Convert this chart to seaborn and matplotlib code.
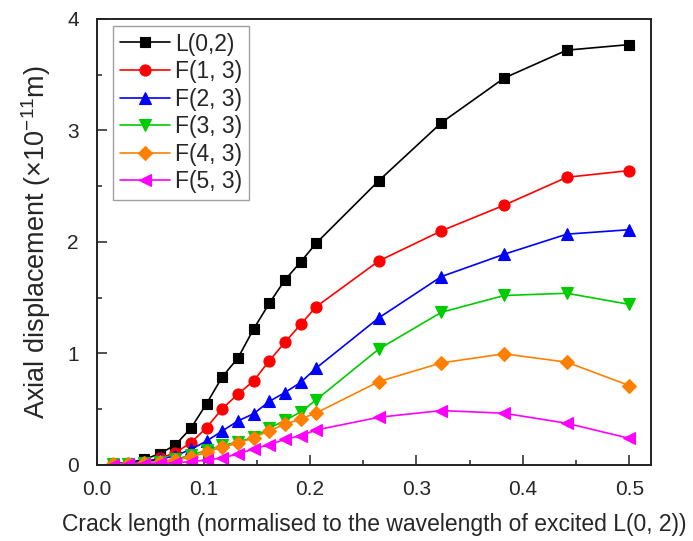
import matplotlib
matplotlib.use("Agg")
import matplotlib.pyplot as plt
import seaborn as sns
import pandas as pd
from matplotlib.ticker import MultipleLocator, FormatStrFormatter

crack_length = [0.0147, 0.0294, 0.0441, 0.0588, 0.0735, 0.0882, 0.1029, 0.1176,
                0.1324, 0.1471, 0.1618, 0.1765, 0.1912, 0.2059, 0.2647, 0.3235,
                0.3824, 0.4412, 0.5]

L02 = [0.01, 0.02, 0.05, 0.10, 0.18, 0.33, 0.55, 0.79, 0.96, 1.22, 1.45, 1.66,
       1.82, 1.99, 2.55, 3.07, 3.47, 3.72, 3.77]
F13 = [0.005, 0.01, 0.03, 0.06, 0.11, 0.20, 0.335, 0.505, 0.635, 0.755, 0.935,
       1.10, 1.26, 1.42, 1.83, 2.10, 2.33, 2.58, 2.64]
F23 = [0.01, 0.015, 0.03, 0.05, 0.084, 0.14, 0.215, 0.305, 0.395, 0.46, 0.57,
       0.65, 0.74, 0.87, 1.32, 1.69, 1.89, 2.07, 2.11]
F33 = [0.005, 0.01, 0.02, 0.03, 0.05, 0.09, 0.13, 0.175, 0.205, 0.25, 0.33,
       0.40, 0.475, 0.585, 1.04, 1.37, 1.52, 1.54, 1.44]
F43 = [0.005, 0.01, 0.015, 0.025, 0.045, 0.07, 0.115, 0.16, 0.195, 0.245, 0.308,
       0.365, 0.413, 0.467, 0.748, 0.916, 0.997, 0.922, 0.712]
F53 = [0.003, 0.006, 0.01, 0.015, 0.02, 0.03, 0.045, 0.063, 0.099, 0.144, 0.182,
       0.23, 0.263, 0.314, 0.428, 0.488, 0.464, 0.374, 0.239]

series_names = ["L(0,2)", "F(1, 3)", "F(2, 3)", "F(3, 3)", "F(4, 3)", "F(5, 3)"]
series_values = [L02, F13, F23, F33, F43, F53]
colors = ["#000000", "#FF0000", "#0000FF", "#00CC00", "#FF8000", "#FF00FF"]
markers = ["s", "o", "^", "v", "D", "<"]
msizes = [7.5, 8, 8.5, 8.5, 7, 8.5]

sns.set_style("ticks")
plt.rcParams["font.family"] = ["Liberation Sans", "DejaVu Sans"]
plt.rcParams["mathtext.fontset"] = "custom"
plt.rcParams["mathtext.rm"] = "Liberation Sans"
plt.rcParams["mathtext.it"] = "Liberation Sans:italic"

fig = plt.figure(figsize=(6.93, 5.41), dpi=100)
ax = fig.add_axes([0.140, 0.1405, 0.799, 0.8245])

for name, vals, c, m, ms in zip(series_names, series_values, colors, markers, msizes):
    df = pd.DataFrame({"x": crack_length, "y": vals})
    sns.lineplot(data=df, x="x", y="y", ax=ax, color=c, marker=m, markersize=ms,
                 markeredgecolor=c, markeredgewidth=0.8, linewidth=1.2, label=name)

ax.set_xlim(0, 0.52)
ax.set_ylim(0, 4)
ax.xaxis.set_major_locator(MultipleLocator(0.1))
ax.xaxis.set_minor_locator(MultipleLocator(0.05))
ax.yaxis.set_major_locator(MultipleLocator(1))
ax.yaxis.set_minor_locator(MultipleLocator(0.5))
ax.xaxis.set_major_formatter(FormatStrFormatter("%.1f"))
ax.tick_params(which="both", direction="in", top=False, right=False, labelsize=15, color="#222222")
ax.tick_params(which="major", length=7, width=1.1)
ax.tick_params(which="minor", length=3.5, width=1.1)
ax.tick_params(axis="x", which="major", pad=11)
ax.tick_params(axis="y", which="major", pad=13)
for s in ax.spines.values():
    s.set_linewidth(1.4)
    s.set_color("#222222")

ax.set_xlabel("Crack length (normalised to the wavelength of excited L(0, 2))", fontsize=16.5, labelpad=10)
ax.set_ylabel(r"Axial displacement ($\times$10$^{-11}$m)", fontsize=19.5, labelpad=10)

leg = ax.legend(loc="upper left", bbox_to_anchor=(0.029, 0.985), fontsize=16.5, frameon=True,
                fancybox=False, edgecolor="#888888", handlelength=2.2, labelspacing=0.2,
                borderpad=0.3, handletextpad=0.2, borderaxespad=0)
leg.get_frame().set_linewidth(1.0)

fig.savefig("out.png", dpi=100)
